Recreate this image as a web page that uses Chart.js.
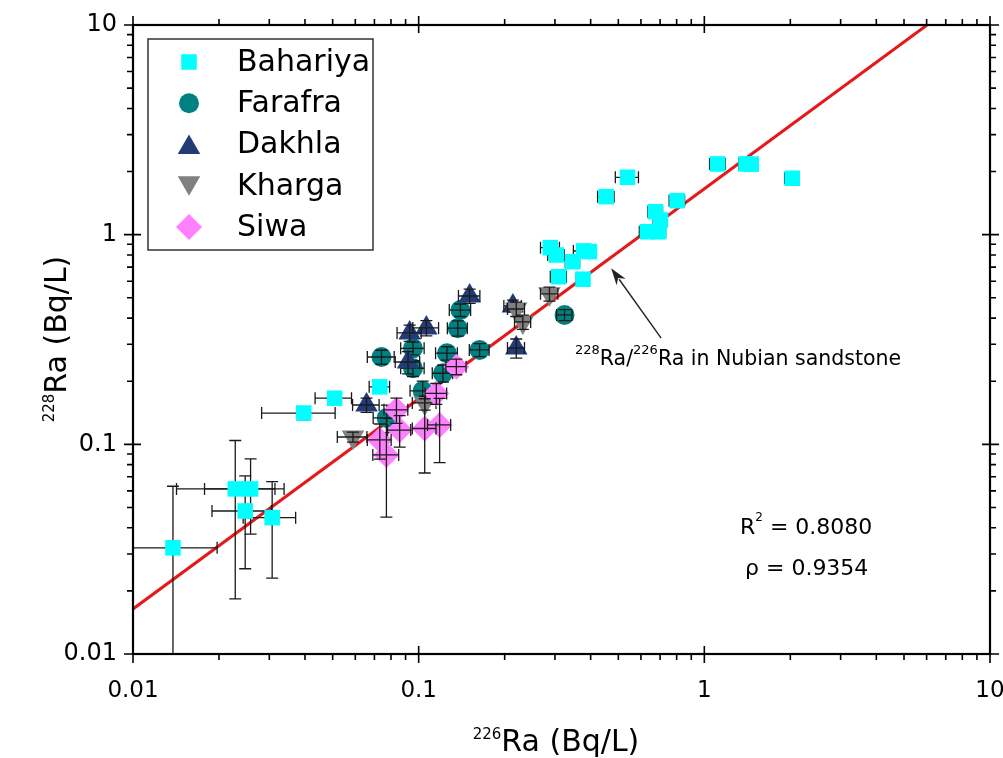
<!DOCTYPE html>
<html>
<head>
<meta charset="utf-8">
<script src="https://cdn.jsdelivr.net/npm/chart.js@4/dist/chart.umd.min.js"></script>
<style>
  html, body { margin: 0; padding: 0; background: #fff; }
  #wrap { width: 1003px; height: 758px; position: relative; }
</style>
</head>
<body>
<div id="wrap"><canvas id="chart"></canvas></div>
<script>
/* ── Data (Bq/L) ── */
const bahX    = [0.0138, 0.0228, 0.0258, 0.0247, 0.0307, 0.0396, 0.0508, 0.0731, 0.289, 0.303, 0.346, 0.378, 0.396, 0.309, 0.376, 0.453, 0.538, 0.674, 0.702, 0.692, 0.632, 0.803, 1.113, 1.399, 1.459, 2.031];
const bahY    = [0.0321, 0.0613, 0.0613, 0.0481, 0.0447, 0.141, 0.166, 0.188, 0.867, 0.800, 0.743, 0.836, 0.83, 0.630, 0.613, 1.518, 1.878, 1.287, 1.175, 1.033, 1.033, 1.453, 2.174, 2.174, 2.17, 1.858];
const bahXErr = [0.0059, 0.0086, 0.008, 0.0058, 0.0064, 0.0114, 0.0074, 0.006, 0.022, 0.02, 0.02, 0.03, 0.02, 0.02, 0.02, 0.03, 0.05, 0.04, 0.04, 0.04, 0.04, 0.05, 0.07, 0.08, 0.08, 0.12];
const bahYErr = [0.031, 0.043, 0.024, 0.0226, 0.0217, 0.010, 0.010, 0.012, 0.05, 0.05, 0.05, 0.05, 0.05, 0.04, 0.04, 0.09, 0.11, 0.08, 0.07, 0.06, 0.06, 0.09, 0.13, 0.13, 0.13, 0.11];

const farX    = [0.0741, 0.140, 0.137, 0.0955, 0.1256, 0.1634, 0.0955, 0.1216, 0.324, 0.1033, 0.0773];
const farY    = [0.261, 0.437, 0.358, 0.287, 0.272, 0.282, 0.2306, 0.2183, 0.414, 0.180, 0.1337];
const farXErr = [0.008, 0.012, 0.011, 0.009, 0.011, 0.013, 0.009, 0.01, 0.02, 0.01, 0.008];
const farYErr = [0.02, 0.03, 0.03, 0.02, 0.02, 0.02, 0.02, 0.02, 0.025, 0.02, 0.02];

const dakX    = [0.1508, 0.1064, 0.0930, 0.0918, 0.0657, 0.2137, 0.2196];
const dakY    = [0.510, 0.359, 0.340, 0.247, 0.154, 0.457, 0.288];
const dakXErr = [0.013, 0.011, 0.009, 0.009, 0.007, 0.015, 0.015];
const dakYErr = [0.04, 0.03, 0.03, 0.03, 0.012, 0.03, 0.03];

const kharX    = [0.287, 0.2196, 0.2316, 0.105, 0.0589];
const kharY    = [0.522, 0.442, 0.3836, 0.1576, 0.1084];
const kharXErr = [0.02, 0.015, 0.015, 0.01, 0.007];
const kharYErr = [0.04, 0.035, 0.03, 0.012, 0.006];

const siwaX    = [0.0836, 0.0858, 0.0731, 0.0771, 0.105, 0.1184, 0.1153, 0.1355];
const siwaY    = [0.146, 0.117, 0.105, 0.089, 0.119, 0.1238, 0.175, 0.2347];
const siwaXErr = [0.008, 0.008, 0.007, 0.008, 0.01, 0.011, 0.01, 0.011];
const siwaYErr = [0.02, 0.02, 0.02, 0.044, 0.046, 0.042, 0.02, 0.02];

// Nubian sandstone ratio line (end points at the frame)
const fitX = [0.01, 6.02];
const fitY = [0.0164, 10];

const decades    = [0.01, 0.1, 1, 10];
const tickLabels = ['0.01', '0.1', '1', '10'];
const minorSteps = [2, 3, 4, 5, 6, 7, 8, 9];

/* ── Helpers ── */
const FONT = "'DejaVu Sans', 'Liberation Sans', sans-serif";
const pts = (xs, ys) => xs.map((x, i) => ({ x, y: ys[i] }));
const tickValues = decades.flatMap((d, i) =>
  i < decades.length - 1 ? [d, ...minorSteps.map(m => +(m * d).toPrecision(3))] : [d]);
const isDecade = v => decades.some(d => Math.abs(d - v) < d * 1e-6);

function series(label, xs, ys, xe, ye, color, style, radius, rotation, order, barsBehind) {
  return {
    label, data: pts(xs, ys), xErr: xe, yErr: ye, barsBehind,
    pointStyle: style, pointRadius: radius, pointRotation: rotation || 0,
    pointBackgroundColor: color, pointBorderColor: color, pointBorderWidth: 0,
    showLine: false, order
  };
}

/* ── Error bars (drawn with the chart's own scales) ── */
function drawBars(chart, index) {
  const ds = chart.data.datasets[index];
  const { ctx, chartArea: a, scales: { x, y } } = chart;
  const cap = 6;
  ctx.save();
  ctx.beginPath(); ctx.rect(a.left, a.top, a.right - a.left, a.bottom - a.top); ctx.clip();
  ctx.strokeStyle = '#1a1a1a'; ctx.lineWidth = 1.3;
  ds.data.forEach((p, i) => {
    const px = x.getPixelForValue(p.x), py = y.getPixelForValue(p.y);
    const xl = x.getPixelForValue(Math.max(p.x - ds.xErr[i], 1e-4));
    const xr = x.getPixelForValue(p.x + ds.xErr[i]);
    const yl = y.getPixelForValue(Math.max(p.y - ds.yErr[i], 1e-4));
    const yh = y.getPixelForValue(p.y + ds.yErr[i]);
    ctx.beginPath();
    ctx.moveTo(xl, py); ctx.lineTo(xr, py);
    ctx.moveTo(xl, py - cap); ctx.lineTo(xl, py + cap);
    ctx.moveTo(xr, py - cap); ctx.lineTo(xr, py + cap);
    ctx.moveTo(px, yl); ctx.lineTo(px, yh);
    ctx.moveTo(px - cap, yl); ctx.lineTo(px + cap, yl);
    ctx.moveTo(px - cap, yh); ctx.lineTo(px + cap, yh);
    ctx.stroke();
  });
  ctx.restore();
}
const errorBars = {
  id: 'errorBars',
  beforeDatasetDraw(chart, args) {
    const ds = chart.data.datasets[args.index];
    if (ds.xErr && ds.barsBehind) drawBars(chart, args.index);
  },
  afterDatasetDraw(chart, args) {
    const ds = chart.data.datasets[args.index];
    if (ds.xErr && !ds.barsBehind) drawBars(chart, args.index);
  }
};

/* ── Frame + ticks on all four sides ── */
const frameTicks = {
  id: 'frameTicks',
  afterDraw(chart) {
    const { ctx, chartArea: a, scales: { x, y } } = chart;
    ctx.save();
    ctx.strokeStyle = '#000'; ctx.lineWidth = 1.6;
    ctx.beginPath();
    x.ticks.forEach(t => {
      const p = x.getPixelForValue(t.value), maj = isDecade(t.value);
      const out = maj ? 9 : 6, inn = maj ? 8 : 0;
      ctx.moveTo(p, a.bottom + out); ctx.lineTo(p, a.bottom - inn);
      ctx.moveTo(p, a.top - out); ctx.lineTo(p, a.top + inn);
    });
    y.ticks.forEach(t => {
      const p = y.getPixelForValue(t.value), maj = isDecade(t.value);
      const out = maj ? 9 : 6, inn = maj ? 8 : 0;
      ctx.moveTo(a.left - out, p); ctx.lineTo(a.left + inn, p);
      ctx.moveTo(a.right + out, p); ctx.lineTo(a.right - inn, p);
    });
    ctx.stroke();
    ctx.lineWidth = 2.2;
    ctx.strokeRect(a.left, a.top, a.right - a.left, a.bottom - a.top);
    ctx.restore();
  }
};

/* ── Text with superscripts ── */
function richText(ctx, parts, x, y, align) {
  const w = parts.reduce((s, p) => { ctx.font = `${p.size}px ${FONT}`; return s + ctx.measureText(p.t).width; }, 0);
  let cx = align === 'center' ? x - w / 2 : x;
  ctx.textBaseline = 'alphabetic'; ctx.textAlign = 'left';
  parts.forEach(p => {
    ctx.font = `${p.size}px ${FONT}`;
    ctx.fillText(p.t, cx, y - (p.rise || 0));
    cx += ctx.measureText(p.t).width;
  });
}

const labels = {
  id: 'labels',
  afterDraw(chart) {
    const { ctx, scales: { x, y } } = chart;
    ctx.save();
    ctx.fillStyle = '#000';
    // axis titles
    richText(ctx, [{ t: '226', size: 15, rise: 12 }, { t: 'Ra (Bq/L)', size: 30 }], 556, 751, 'center');
    ctx.save();
    ctx.translate(66, 339); ctx.rotate(-Math.PI / 2);
    richText(ctx, [{ t: '228', size: 15, rise: 12 }, { t: 'Ra (Bq/L)', size: 30 }], 0, 0, 'center');
    ctx.restore();

    // arrow to the ratio line
    const tx = x.getPixelForValue(0.706), ty = y.getPixelForValue(0.321);
    const hx = x.getPixelForValue(0.472), hy = y.getPixelForValue(0.692);
    const ang = Math.atan2(hy - ty, hx - tx), L = 17, W = 5.5;
    ctx.strokeStyle = '#222'; ctx.fillStyle = '#222'; ctx.lineWidth = 1.4;
    ctx.beginPath(); ctx.moveTo(tx, ty);
    ctx.lineTo(hx - L * 0.8 * Math.cos(ang), hy - L * 0.8 * Math.sin(ang)); ctx.stroke();
    ctx.beginPath(); ctx.moveTo(hx, hy);
    ctx.lineTo(hx - L * Math.cos(ang) + W * Math.sin(ang), hy - L * Math.sin(ang) - W * Math.cos(ang));
    ctx.lineTo(hx - L * 0.7 * Math.cos(ang), hy - L * 0.7 * Math.sin(ang));
    ctx.lineTo(hx - L * Math.cos(ang) - W * Math.sin(ang), hy - L * Math.sin(ang) + W * Math.cos(ang));
    ctx.closePath(); ctx.fill();

    ctx.fillStyle = '#000';
    richText(ctx, [{ t: '228', size: 13, rise: 11 }, { t: 'Ra/', size: 20.5 },
                   { t: '226', size: 13, rise: 11 }, { t: 'Ra in Nubian sandstone', size: 20.5 }], 575, 365);
    richText(ctx, [{ t: 'R', size: 22 }, { t: '2', size: 12, rise: 13 }, { t: ' = 0.8080', size: 22 }], 740, 534);
    richText(ctx, [{ t: 'ρ = 0.9354', size: 22 }], 745, 575);
    ctx.restore();
  }
};

/* ── Legend box ── */
function marker(ctx, style, r, rot, x, y) {
  ctx.beginPath();
  if (style === 'circle') ctx.arc(x, y, r, 0, 2 * Math.PI);
  else if (style === 'rect') { const s = r * Math.SQRT1_2; ctx.rect(x - s, y - s, 2 * s, 2 * s); }
  else if (style === 'rectRot') { ctx.moveTo(x - r, y); ctx.lineTo(x, y - r); ctx.lineTo(x + r, y); ctx.lineTo(x, y + r); ctx.closePath(); }
  else {
    const d = rot ? -1 : 1, h = r * Math.sqrt(3) / 2;
    ctx.moveTo(x, y - d * r); ctx.lineTo(x + h, y + d * r / 2); ctx.lineTo(x - h, y + d * r / 2); ctx.closePath();
  }
  ctx.fill();
}
const legendBox = {
  id: 'legendBox',
  afterDraw(chart) {
    const { ctx } = chart;
    const items = chart.data.datasets.filter(d => d.xErr);
    ctx.save();
    ctx.fillStyle = '#fff'; ctx.fillRect(148, 39, 225, 211);
    ctx.strokeStyle = '#333'; ctx.lineWidth = 1.5; ctx.strokeRect(148, 39, 225, 211);
    items.forEach((d, i) => {
      const yy = 62 + i * 41.25;
      ctx.fillStyle = d.pointBackgroundColor;
      marker(ctx, d.pointStyle, d.pointRadius, d.pointRotation, 189, yy + (d.pointStyle === 'triangle' ? (d.pointRotation ? -3 : 3) : 0));
      ctx.fillStyle = '#000'; ctx.font = `30px ${FONT}`;
      ctx.textAlign = 'left'; ctx.textBaseline = 'middle';
      ctx.fillText(d.label, 237, yy + 1);
    });
    ctx.restore();
  }
};

/* ── Chart ── */
const axisCommon = {
  type: 'logarithmic', min: 0.01, max: 10,
  grid: { display: false, drawTicks: false },
  border: { display: false },
  afterBuildTicks: s => { s.ticks = tickValues.map(v => ({ value: v })); },
  ticks: {
    autoSkip: false, maxRotation: 0, minRotation: 0, color: '#000',
    font: { family: FONT, size: 23 },
    callback: (v, i, ticks) => {
      const k = decades.findIndex(d => Math.abs(d - ticks[i].value) < d * 1e-6);
      return k >= 0 ? tickLabels[k] : '';
    }
  }
};

new Chart(document.getElementById('chart'), {
  type: 'scatter',
  data: {
    datasets: [
      { label: 'fit', data: pts(fitX, fitY), showLine: true, borderColor: '#e3191c', borderWidth: 3,
        pointRadius: 0, fill: false, order: 6 },
      series('Bahariya', bahX, bahY, bahXErr, bahYErr, '#00ffff', 'rect', 11, 0, 5, true),
      series('Farafra', farX, farY, farXErr, farYErr, '#008080', 'circle', 10, 0, 4, false),
      series('Dakhla', dakX, dakY, dakXErr, dakYErr, '#233c78', 'triangle', 13, 0, 3, false),
      series('Kharga', kharX, kharY, kharXErr, kharYErr, '#808080', 'triangle', 13, 180, 2, false),
      series('Siwa', siwaX, siwaY, siwaXErr, siwaYErr, '#ff80ff', 'rectRot', 13, 0, 1, false)
    ]
  },
  options: {
    responsive: true, maintainAspectRatio: false, animation: false, events: [],
    layout: { padding: { top: 25, right: 13, left: 0, bottom: 0 } },
    plugins: { legend: { display: false }, tooltip: { enabled: false } },
    scales: {
      x: { ...axisCommon, position: 'bottom',
           ticks: { ...axisCommon.ticks, padding: 23 },
           afterFit: s => { s.height = 104; s.paddingLeft = 0; s.paddingRight = 0; } },
      y: { ...axisCommon, position: 'left',
           ticks: { ...axisCommon.ticks, font: { family: FONT, size: 24 }, padding: 16 },
           afterFit: s => { s.width = 133; s.paddingTop = 0; s.paddingBottom = 0; } }
    }
  },
  plugins: [errorBars, frameTicks, labels, legendBox]
});
</script>
</body>
</html>
